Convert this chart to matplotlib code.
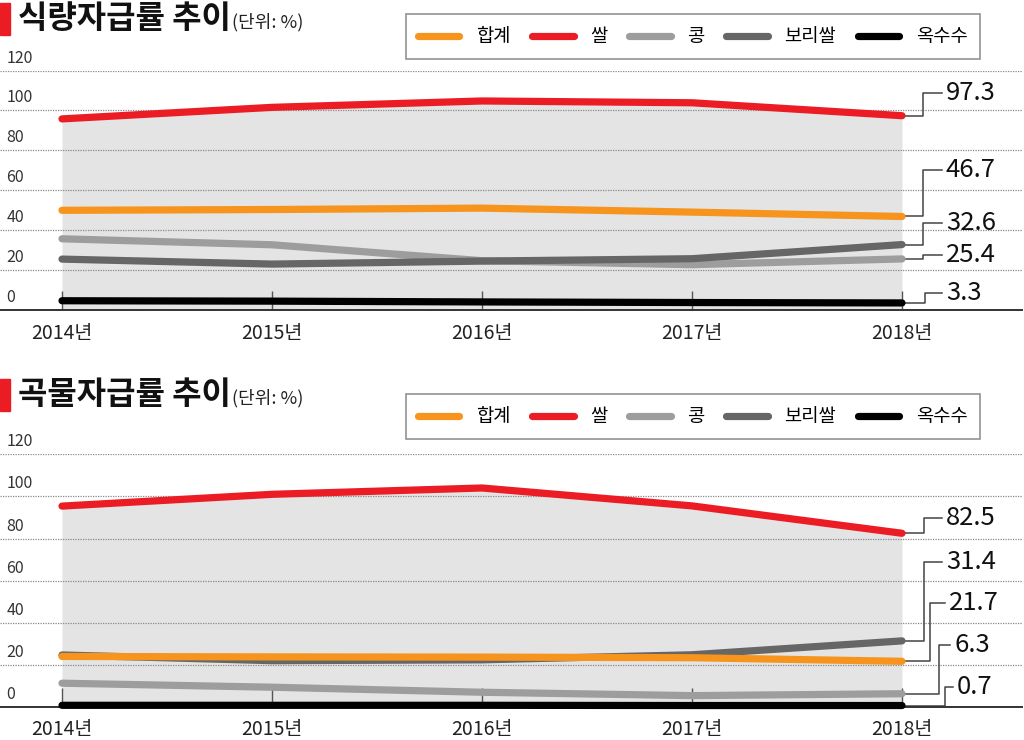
import matplotlib
matplotlib.use("Agg")
import matplotlib.pyplot as plt
from matplotlib.patches import Rectangle

plt.rcParams['font.family'] = ['Noto Sans CJK KR', 'DejaVu Sans']

# data
years = [2014, 2015, 2016, 2017, 2018]
year_labels = ['2014년', '2015년', '2016년', '2017년', '2018년']
series_names = ['합계', '쌀', '콩', '보리쌀', '옥수수']

food_total = [49.8, 50.2, 50.9, 48.9, 46.7]
food_rice = [95.7, 101.5, 104.7, 103.8, 97.3]
food_bean = [35.5, 32.5, 24.5, 22.5, 25.4]
food_barley = [25.3, 22.8, 24.3, 25.5, 32.6]
food_corn = [4.4, 4.2, 3.8, 3.5, 3.3]

grain_total = [24.0, 23.8, 23.7, 23.4, 21.7]
grain_rice = [95.4, 101.0, 104.0, 95.5, 82.5]
grain_bean = [11.3, 9.4, 7.0, 5.4, 6.3]
grain_barley = [24.7, 22.0, 22.4, 24.8, 31.4]
grain_corn = [0.8, 0.8, 0.8, 0.7, 0.7]

yticks = [0, 20, 40, 60, 80, 100, 120]

colors = {'합계': '#f7941d', '쌀': '#ec1c24', '콩': '#9d9d9d',
          '보리쌀': '#666666', '옥수수': '#000000'}

W, H = 1024, 740
PX_YEAR = 210.0   # pixels per year
X0 = 62.0         # pixel of 2014


def px2x(px):
    return years[0] + (px - X0) / PX_YEAR


fig = plt.figure(figsize=(W / 100, H / 100), dpi=100)


def panel(top_px, base_px, title, title_y, legend_top, data, label_px, elbow_px, end_px, pad):
    ax = fig.add_axes([0, 1 - base_px / H, 1022 / W, (base_px - top_px) / H])
    ax.set_xlim(px2x(0), px2x(1022))
    ax.set_ylim(0, 120)
    ppu = (base_px - top_px) / 120.0
    ax.patch.set_visible(False)
    for s in ['top', 'left', 'right']:
        ax.spines[s].set_visible(False)
    ax.spines['bottom'].set_color('#333333')
    ax.spines['bottom'].set_linewidth(1.4)
    ax.set_yticks([])
    ax.set_xticks(years)
    ax.set_xticklabels(year_labels, fontsize=14, color='#222222')
    ax.tick_params(axis='x', direction='in', length=14, width=1.0, color='#555555', pad=pad)

    for v in yticks[1:]:
        ax.axhline(v, color='#888888', lw=0.9, ls=(0, (1, 1)), zorder=1)
    for v in yticks:
        ax.annotate(str(v), xy=(0.006, v), xycoords=('axes fraction', 'data'),
                    xytext=(0, 9), textcoords='offset points', va='center', ha='left',
                    fontsize=11.5, color='#333333')

    rice = data['쌀']
    ax.fill_between(years, 0, rice, color='#e4e4e4', lw=0, zorder=0)

    handles = {}
    for name in ['콩', '보리쌀', '옥수수', '합계', '쌀']:
        ln, = ax.plot(years, data[name], color=colors[name], lw=5.2,
                      solid_capstyle='round', zorder=3, clip_on=False)
        handles[name] = ln

    # value labels with elbow connectors
    for name, ly, ex, hx in zip(label_px.keys(), label_px.values(), elbow_px, end_px):
        val = data[name][-1]
        ly_d = (base_px - ly) / ppu
        ax.plot([years[-1], px2x(ex), px2x(ex), px2x(hx)], [val, val, ly_d, ly_d],
                color='#444444', lw=1.1, clip_on=False, zorder=2)
        ax.text(px2x(hx + 4), ly_d, f'{val:.1f}', fontsize=18.5, va='center', ha='left',
                color='#111111')

    fig.text(18 / W, 1 - title_y / H, title, fontsize=23, fontweight='bold',
             va='center', ha='left', color='#111111')
    fig.text(232 / W, 1 - (title_y + 3) / H, '(단위: %)', fontsize=13,
             va='center', ha='left', color='#222222')
    fig.patches.append(Rectangle((0, 1 - (title_y + 16) / H), 10 / W, 32 / H,
                                 transform=fig.transFigure, color='#ec1c24'))

    leg = ax.legend([handles[n] for n in series_names], series_names,
                    loc='upper left', bbox_to_anchor=(406 / W, 1 - legend_top / H),
                    bbox_transform=fig.transFigure, ncol=5, frameon=True,
                    fancybox=False, edgecolor='#777777', fontsize=13.5,
                    handlelength=2.2, handletextpad=0.9, columnspacing=1.15,
                    borderpad=0.65, borderaxespad=0)
    leg.get_frame().set_linewidth(1.2)
    return ax


food = {'합계': food_total, '쌀': food_rice, '콩': food_bean,
        '보리쌀': food_barley, '옥수수': food_corn}
grain = {'합계': grain_total, '쌀': grain_rice, '콩': grain_bean,
         '보리쌀': grain_barley, '옥수수': grain_corn}

panel(70.5, 309.5, '식량자급률 추이', 19, 14, food,
      {'쌀': 93, '합계': 170, '보리쌀': 223, '콩': 255, '옥수수': 293},
      [923, 923, 923, 923, 925], [942, 942, 942, 942, 942], 10)

panel(454.3, 707, '곡물자급률 추이', 395, 394, grain,
      {'쌀': 518, '보리쌀': 562, '합계': 603, '콩': 645, '옥수수': 687},
      [924, 924, 930, 939, 945], [942, 942, 945, 950, 953], 9)

fig.savefig('out.png', dpi=100)
